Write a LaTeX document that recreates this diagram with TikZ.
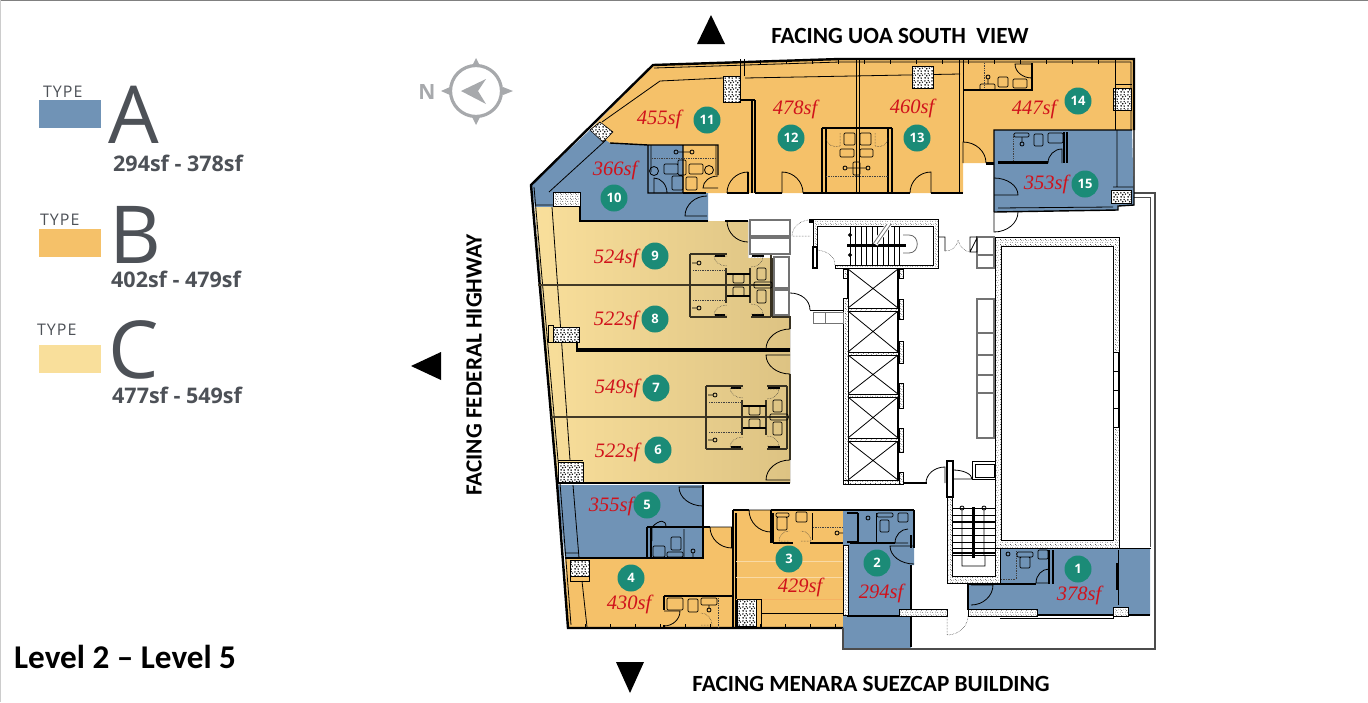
\documentclass[tikz,border=0pt]{standalone}
\usepackage{fontspec}
\setmainfont{Open Sans}
\newfontfamily\capfont{Carlito}
\newfontfamily\handfont{Liberation Serif}
\usetikzlibrary{patterns}
\definecolor{typea}{HTML}{7093B6}
\definecolor{typeb}{HTML}{F5C169}
\definecolor{typec}{HTML}{F9DF9B}
\definecolor{typecdark}{HTML}{DDC383}
\definecolor{tealdot}{HTML}{1B8B77}
\definecolor{areared}{HTML}{D0121B}
\definecolor{slate}{HTML}{4D5157}
\definecolor{compassgrey}{HTML}{A7A9AC}
% the two stone fills
\pgfdeclarepatternformonly{finespeck}{\pgfqpoint{0pt}{0pt}}{\pgfqpoint{5pt}{5pt}}{\pgfqpoint{5pt}{5pt}}{
	\pgfpathcircle{\pgfqpoint{.8pt}{1pt}}{.4pt}
	\pgfpathcircle{\pgfqpoint{3.2pt}{.6pt}}{.35pt}
	\pgfpathcircle{\pgfqpoint{2pt}{2.8pt}}{.4pt}
	\pgfpathcircle{\pgfqpoint{4.3pt}{3.4pt}}{.35pt}
	\pgfpathcircle{\pgfqpoint{.6pt}{4.2pt}}{.35pt}
	\pgfusepath{fill}}
\pgfdeclarepatternformonly{blotch}{\pgfqpoint{0pt}{0pt}}{\pgfqpoint{7pt}{7pt}}{\pgfqpoint{7pt}{7pt}}{
	\pgfpathcircle{\pgfqpoint{1.2pt}{1.2pt}}{1pt}
	\pgfpathcircle{\pgfqpoint{4.6pt}{1pt}}{.9pt}
	\pgfpathcircle{\pgfqpoint{3pt}{3.6pt}}{1pt}
	\pgfpathcircle{\pgfqpoint{6pt}{4.2pt}}{.8pt}
	\pgfpathcircle{\pgfqpoint{1pt}{5.6pt}}{.9pt}
	\pgfpathcircle{\pgfqpoint{4.6pt}{6pt}}{.8pt}
	\pgfusepath{fill}}
\tikzset{
	wall/.style={line width=1.4pt, black}, % room walls
	outerwall/.style={line width=2.4pt, black, line join=miter},
	thinwall/.style={line width=.8pt, black},
	partywall/.style={line width=1.3pt, black!70!typecdark},
	doorline/.style={line width=.8pt, black},
	dashdoor/.style={line width=.5pt, black!80, densely dotted},
	fixture/.style={line width=.7pt, black, rounded corners=1.2pt},
	showerline/.style={line width=.7pt, black!75, densely dotted},
	liftbox/.style={line width=1.2pt, black!55, fill=white},
	concrete/.style={draw=black, line width=.4pt, preaction={fill=white}, pattern=finespeck, pattern color=black},
	pillar/.style={draw=black, line width=.6pt, preaction={fill=white}, pattern=blotch, pattern color=black},
	unitdot/.style={circle, fill=tealdot, minimum size=27pt, inner sep=0pt, text=white, font=\bfseries\fontsize{13}{13}\selectfont},
	arealabel/.style={text=areared, font=\handfont\itshape\fontsize{20.5}{20.5}\selectfont},
	legendbox/.style={minimum width=62pt, minimum height=28pt, inner sep=0pt},
	typeword/.style={text=slate, font=\addfontfeature{LetterSpace=6}\fontsize{16}{16}\selectfont, anchor=base west, inner sep=0pt},
	bigletter/.style={text=slate, font=\fontsize{80}{80}\selectfont, anchor=base west, inner sep=0pt},
	rangeword/.style={text=slate, font=\bfseries\fontsize{21.5}{21.5}\selectfont, anchor=base west, inner sep=0pt},
	facing/.style={black, font=\capfont\bfseries\fontsize{23.2}{23.2}\selectfont, inner sep=0pt},
	bigtip/.style={fill=black},
	% one double bathroom, two showers back to back
	pics/twinbath/.style={code={
		\draw[wall, black!75!typecdark] (0,-31) -- (37,-31) (0,32) -- (37,32) (0,-31) -- (0,32) (0,0) -- (84,0);
		\draw[wall, black!75!typecdark] (36,-17) -- (36,18) (61,-31) -- (81,-31) (61,32) -- (81,32) (60,-17) -- (60,18) (81,-31) -- (81,32);
		\draw[line width=2pt] (25,-29) -- (35,-29) (25,30) -- (35,30) (62,-29) -- (74,-29) (62,30) -- (74,30);
		\draw[wall] (37,-11) -- (60,-11) (37,11) -- (60,11);
		\draw[fixture] (43,-11) rectangle (54,-2) (43,2) rectangle (54,11);
		\draw[fixture] (67,-17) rectangle (76,-5) (67,5) rectangle (76,18) (64,-3) rectangle (82,3);
		\draw[showerline] (3,-15) -- (36,-15) (3,15) -- (36,15);
		\draw[thinwall] (9,-22) circle (2) (9,23) circle (2) (2,-22) -- (7,-22) (2,23) -- (7,23);
		\doorswing[dashdoor]{37}{-29}{24}{-29}{37}{-19}
		\doorswing[dashdoor]{37}{30}{24}{30}{37}{20}
		\doorswing[dashdoor]{61}{-28}{73}{-28}{61}{-18}
		\doorswing[dashdoor]{61}{29}{73}{29}{61}{19}
	}},
}
% hinge, leaf end, swing end
\newcommand{\doorswing}[7][doorline]{\draw[#1] (#2,#3) -- (#4,#5) .. controls ({#4+.55*(#6-#2)},{#5+.55*(#7-#3)}) and ({#6+.55*(#4-#2)},{#7+.55*(#5-#3)}) .. (#6,#7);}

\begin{document}
\begin{tikzpicture}[x=1pt,y=-1pt]
	\useasboundingbox (0,0) rectangle (1368,702);
	\draw[black!50, line width=1pt] (0,.5) -- (1368,.5);
	\draw[black!20, line width=1pt] (.5,0) -- (.5,702);

	%% legend
	\foreach \t/\col/\by/\wx/\wy/\bx/\bby/\rng/\rx/\ry in {
		A/typea/100/43/97/108/143/294sf - 378sf/113/171,
		B/typeb/229/40/225/109/263/402sf - 479sf/111/287,
		C/typec/345/37/335/108/378/477sf - 549sf/112/403}{
		\node[legendbox, fill=\col, anchor=north west] (box\t) at (39,\by) {};
		\node[typeword] (word\t) at (\wx,\wy) {TYPE};
		\node[bigletter] (big\t) at (\bx,\bby) {\t};
		\node[rangeword] (range\t) at (\rx,\ry) {\rng};
	}
	\node[black, anchor=base west, inner sep=0pt, font=\capfont\bfseries\fontsize{33.2}{33.2}\selectfont] (level) at (14,668) {Level 2 – Level 5};

	%% compass
	\node[text=compassgrey, font=\bfseries\fontsize{21}{21}\selectfont, inner sep=0pt] (north) at (427,92) {N};
	\draw[compassgrey, line width=3.2pt] (476,91) circle (25.5);
	\fill[compassgrey] (441,91) -- (450,87) -- (450,95) -- cycle (513,91) -- (503,87) -- (503,95) -- cycle
		(476,58) -- (472,66) -- (480,66) -- cycle (476,125) -- (472,117) -- (480,117) -- cycle;
	\fill[compassgrey] (461,91) -- (486,79) -- (478,91) -- (486,104) -- cycle;

	%% facing arrows and captions
	\fill[bigtip] (697,44) -- (725,44) -- (711,15) -- cycle;
	\fill[bigtip] (616,662) -- (644,662) -- (630,693) -- cycle;
	\fill[bigtip] (411,366) -- (441,352) -- (441,380) -- cycle;
	\node[facing] (southview) at (900,36) {FACING UOA SOUTH\ \ VIEW};
	\node[facing] (suezcap) at (871,684) {FACING MENARA SUEZCAP BUILDING};
	\node[facing, rotate=90] (highway) at (474,365) {FACING FEDERAL HIGHWAY};

	%% type fills
	\fill[typeb] (653,65) -- (840,59) -- (1134,59) -- (1134,130) -- (994,130) -- (994,163) -- (963,163) -- (963,193) -- (683,193) -- (683,145) -- (650,145) -- (610,143) -- (590,130) -- cycle;
	\fill[typea] (590,130) -- (531,185) -- (535,207) -- (580,207) -- (580,221) -- (708,221) -- (708,193) -- (683,193) -- (683,145) -- (650,145) -- (610,143) -- cycle;
	\fill[left color=typec, right color=typecdark] (535,207) -- (580,207) -- (580,221) -- (748,221) -- (748,258) -- (773,258) -- (773,317) -- (790,317) -- (790,483) -- (557,483) -- cycle;
	\fill[typea] (557,485) -- (703,485) -- (703,558) -- (565,558) -- cycle;
	\fill[typeb] (565,558) -- (703,558) -- (703,527) -- (733,527) -- (733,510) -- (843,510) -- (843,628) -- (568,628) -- cycle;
	\fill[typea] (843,510) -- (914,510) -- (914,565) -- (911,565) -- (911,648) -- (843,648) -- cycle;
	\fill[typea] (1000,548) -- (1150,548) -- (1150,615) -- (968,615) -- (968,583) -- (1000,583) -- cycle;
	\fill[typea] (994,130) -- (1132,130) -- (1134,205) -- (1118,205) -- (1118,210) -- (994,212) -- cycle;

	%% envelope
	\draw[outerwall] (1134,130) -- (1134,59) -- (840,59) -- (653,65) -- (531,185) -- (557,483) -- (568,628) -- (843,628);
	\draw[thinwall] (654,68) -- (840,62) -- (1131,62) -- (1131,130) (534,187) -- (560,483) -- (571,625);
	\foreach \x in {760,786,...,1120}
		\draw[thinwall] (\x,60) -- (\x,64);
	\foreach \x in {585,610,...,840}
		\draw[thinwall] (\x,624) -- (\x,628);
	\draw[black!70, line width=2.5pt] (1134,193) -- (1155,193) -- (1155,649) -- (843,649) -- (843,628);
	\draw[black!70, line width=1pt] (1134,197) -- (1150,197) -- (1150,547);
	\draw[thinwall] (1118,548) -- (1151,548);
	\draw[wall] (911,565) -- (911,647);

	%% north side units 11 to 14
	\draw[thinwall] (602,122) -- (660,81) -- (723,78) (745,78) -- (960,74) (552,207) -- (570,460);
	\draw[thinwall] (740,59) -- (740,76) (744,59) -- (744,76);
	\draw[wall] (740,100) -- (755,100) (752,100) -- (752,193) (755,100) -- (755,193);
	\draw[wall] (755,193) -- (782,193) (803,193) -- (910,193) (931,193) -- (963,193) (683,193) -- (706,193) (727,193) -- (748,193) -- (748,172);
	\draw[thinwall] (959,60) -- (959,193) (963,60) -- (963,142) (856,60) -- (856,128) (859,60) -- (859,128);
	\draw[line width=3pt] (986,163) -- (994,163);
	\doorswing{748}{193}{748}{172}{727}{193}
	\doorswing{782}{193}{782}{172}{803}{193}
	\doorswing{931}{193}{931}{172}{910}{193}
	\doorswing{963}{163}{963}{142}{986}{163}
	\doorswing{707}{216}{685}{216}{707}{196}
	% pillars along the facade
	\filldraw[pillar] (723,76) rectangle (740,102);
	\filldraw[pillar] (590,130) -- (600,122) -- (613,132) -- (603,142) -- cycle;
	\filldraw[concrete] (553,192) rectangle (580,206);
	\filldraw[pillar] (912,66) rectangle (933,88);
	\filldraw[pillar] (1113,88) rectangle (1131,110);
	\filldraw[pillar] (1111,190) rectangle (1131,203);
	\draw[thinwall] (1115,60) -- (1115,130) (1115,84) -- (1132,84);

	% bath of 10 and 11
	\draw[wall] (610,143) -- (648,145) -- (648,193) -- (683,193) (648,145) -- (718,145) -- (718,175) (683,145) -- (683,193);
	\draw[thinwall] (651,145) -- (651,172) (716,145) -- (716,175) (549,192) -- (606,140) (535,205) -- (553,205);
	\draw[showerline] (652,158) -- (716,158);
	\draw[fixture] (664,164) rectangle (678,174) (689,164) rectangle (703,174) (678,160) rectangle (686,175) (672,176) rectangle (683,190) (686,177) rectangle (697,190);
	\draw[thinwall] (676,152) circle (2) (692,152) circle (2) (678,152) -- (690,152) (654,171) circle (4.5) (709,170) circle (4.5);
	\doorswing{654}{193}{654}{178}{667}{193}
	\doorswing{718}{188}{703}{188}{718}{176}

	% bath of 12 and 13
	\draw[wall] (822,128) -- (822,193) (826,128) -- (826,193) (888,128) -- (888,193) (892,128) -- (892,193) (822,128) -- (892,128);
	\draw[thinwall] (856,128) -- (856,193) (859,128) -- (859,193);
	\draw[fixture] (844,133) rectangle (855,145) (860,133) rectangle (871,145) (840,149) rectangle (854,157) (860,149) rectangle (873,157) (853,162) rectangle (860,175);
	\draw[thinwall] (845,168) circle (2) (868,168) circle (2) (847,168) -- (866,168);
	\draw[showerline] (826,176) -- (888,176);
	\doorswing[dashdoor]{840}{133}{840}{146}{826}{137}
	\doorswing[dashdoor]{875}{133}{875}{146}{888}{137}

	% bath of 14
	\draw[wall] (963,90) -- (1032,90) -- (1032,63);
	\doorswing{1032}{64}{1015}{64}{1032}{78}
	\draw[fixture] (998,77) rectangle (1008,87) (1013,79) rectangle (1027,88) (980,84) rectangle (995,90);
	\draw[thinwall] (988,77) circle (2) (988,79) -- (988,84);
	\draw[showerline] (984,63) -- (984,88);

	%% unit 15
	\draw[wall] (994,212) -- (994,130) -- (1132,130) (994,212) -- (1118,210) -- (1118,206) -- (1134,205) -- (1134,130);
	\draw[thinwall] (998,208) -- (1113,207) (1117,130) -- (1117,187) (1113,187) -- (1133,187);
	\draw[line width=3pt] (998,162) -- (1048,162);
	\draw[wall] (1064,132) -- (1064,163) (1067,132) -- (1067,163);
	\doorswing{1062}{163}{1062}{149}{1048}{163}
	\doorswing{994}{195}{1018}{195}{994}{178}
	\doorswing{994}{212}{994}{232}{1018}{212}
	\draw[fixture] (1034,134) rectangle (1043,146) (1048,133) rectangle (1063,143) (1014,133) rectangle (1029,137);
	\draw[thinwall] (1022,144) circle (2) (1022,137) -- (1022,142);
	\draw[showerline] (1013,134) -- (1013,160);

	%% west side units 6 to 9
	\draw[partywall] (538,285) -- (690,285) (551,417) -- (706,417);
	\draw[wall] (580,207) -- (580,221) -- (708,221) (725,221) -- (748,221) (577,342) -- (577,351) -- (790,351) (577,349) -- (790,349) (557,483) -- (790,483);
	\draw[black!75!typecdark, line width=1.5pt] (773,258) -- (773,317) -- (790,317) -- (790,329) (790,374) -- (790,460);
	\doorswing{790}{349}{766}{349}{790}{329}
	\doorswing{790}{355}{766}{355}{790}{374}
	\doorswing{790}{480}{766}{480}{790}{460}
	\doorswing{748}{221}{727}{221}{748}{242}
	\filldraw[pillar] (553,327) rectangle (579,342);
	\draw[thinwall] (548,325) rectangle (553,342);
	\filldraw[pillar] (558,462) rectangle (583,482);
	\draw[thinwall] (558,460) -- (583,460);
	\pic at (706,417) {twinbath};
	\pic at (690,285) {twinbath};

	%% lift lobby boxes by unit 9
	\draw[liftbox] (750,220) rectangle (790,236) (750,238) rectangle (790,254);
	\draw[liftbox] (774,257) rectangle (789,288) (774,290) rectangle (789,315);
	\doorswing[dashdoor]{810}{236}{792}{236}{810}{220}
	\fill[black] (809,219) rectangle (813,223);

	%% stair and lift core
	\filldraw[concrete] (813,219) -- (938,219) -- (938,268) -- (835,268) -- (835,265) -- (933,265) -- (933,226) -- (817,226) -- (817,247) -- (813,247) -- cycle;
	\draw[wall] (813,247) rectangle (817,268);
	\draw[dashdoor] (818,250) .. controls (830,252) and (835,258) .. (835,265);
	\foreach \x in {850,855.5,...,903}
		\draw[thinwall] (\x,227) -- (\x,265);
	\draw[line width=3pt] (847,245) -- (906,245);
	\draw[black!60, line width=.8pt] (903,235) -- (909,235) .. controls (920,235) and (920,253) .. (909,253) -- (903,253);
	\draw[white, line width=6pt] (875,244) -- (889,224);
	\draw[black!55, line width=.8pt] (873,244) -- (887,224) (877,244) -- (891,224);
	\draw[thinwall, fill=black] (850,235) circle (1.5) (850,255) circle (1.5);
	% lifts
	\filldraw[concrete] (843,298) rectangle (848,484) (843,480) rectangle (903,484) (843,269) rectangle (848,278);
	\foreach \ytop/\ybot in {269/308,311/352,355/394,397/438,441/480}{
		\draw[thinwall] (848,\ytop) -- (898,\ybot) (898,\ytop) -- (848,\ybot);
		\draw[thinwall] (848,\ytop) -- (848,\ybot);
		\draw[line width=1.6pt] (898,\ytop) -- (898,\ybot);
	}
	\draw[line width=1.6pt] (848,269) -- (848,298);
	\foreach \ydiv in {308,352,394,438}
		\filldraw[concrete] (848,\ydiv) rectangle (898,\ydiv+3);
	\foreach \ytop/\ybot in {269/278,299/319,341/363,383/408,428/452,472/484}
		\filldraw[concrete] (899,\ytop) rectangle (903,\ybot);
	% closet and door west of the lifts
	\draw[thinwall] (810,310) -- (843,310);
	\draw[liftbox, line width=.9pt] (813,312) rectangle (825,323) (825,312) rectangle (843,323);
	\draw[doorline] (790,293) .. controls (801,293) and (810,300) .. (810,310);

	%% risers east of the lifts
	\foreach \ytop/\ybot in {237/255,255/268,299/333,333/355,355/375,375/393,393/438}
		\draw[liftbox] (977,\ytop) rectangle (994,\ybot);
	\draw[thinwall] (938,237) -- (945,237) -- (945,251) (970,237) rectangle (977,252) (970,252) -- (977,238);
	\draw[dashdoor] (945,251) .. controls (952,251) and (957,247) .. (958,240) .. controls (960,247) and (964,251) .. (970,252);

	%% big shaft
	\filldraw[concrete, even odd rule] (995,237) rectangle (1119,548) (1001,246) rectangle (1113,540);
	\draw[thinwall, fill=white] (1113,352) rectangle (1118,427);
	\foreach \ytick in {371,390,408}
		\draw[thinwall] (1113,\ytick) -- (1118,\ytick);

	%% lower stair
	\filldraw[concrete] (947,497) -- (952,497) -- (952,576) -- (995,576) -- (995,548) -- (1000,548) -- (1000,583) -- (947,583) -- cycle;
	\draw[wall] (947,461) rectangle (953,497);
	\draw[thinwall] (972,461) rectangle (995,479) (975,464) rectangle (994,477);
	\doorswing{953}{479}{972}{479}{953}{470}
	\foreach \ytread in {508,515,522,528,535,542,548,555}
		\draw[thinwall] (952,\ytread) -- (995,\ytread);
	\draw[line width=2pt] (952,522) -- (995,522) (952,553) -- (995,553);
	\draw[line width=3pt] (973,507) -- (973,558);
	\draw[thinwall] (962,555) -- (962,566) -- (985,566) -- (985,555) (962,508) circle (2) (984,508) circle (2) (962,510) -- (962,555) (984,510) -- (984,555);
	\draw[wall] (903,483) -- (927,483);
	\doorswing{945}{483}{945}{467}{926}{483}

	%% unit 1 and the south edge
	\filldraw[concrete] (899,609) rectangle (947,616);
	\filldraw[concrete] (968,609) rectangle (1037,616);
	\filldraw[concrete] (1113,607) rectangle (1128,616);
	\draw[wall] (968,583) -- (968,610) (968,584) -- (1036,584) (1049,550) -- (1049,584) (1053,550) -- (1053,584) (1037,615) -- (1113,615) (1128,615) -- (1150,615);
	\draw[thinwall] (1000,618) -- (1113,618) -- (1113,615) (1118,550) -- (1118,605);
	\draw[line width=2pt] (1117,563) -- (1117,590);
	\draw[showerline] (1016,551) -- (1016,579) -- (1000,579);
	\draw[fixture] (1020,557) rectangle (1030,568) (1017,552) rectangle (1033,557) (1038,550) rectangle (1048,559);
	\draw[thinwall] (1008,554) circle (2);
	\doorswing{971}{585}{993}{585}{971}{605}
	\doorswing{1049}{583}{1036}{583}{1049}{569}
	\doorswing[dashdoor]{947}{616}{947}{635}{968}{616}

	%% unit 2
	\filldraw[concrete] (843,545) rectangle (848,615);
	\draw[wall] (843,510) -- (914,510) (850,543) -- (895,543) (911,535) -- (911,548) (914,510) -- (914,548) (847,616) -- (899,616) (858,513) -- (858,542) (847,513) -- (858,513) (847,542) -- (858,542);
	\draw[thinwall] (876,513) -- (876,542);
	\draw[fixture] (880,520) rectangle (889,532) (877,513) rectangle (893,517) (898,513) rectangle (908,522);
	\draw[thinwall] (868,518) circle (2);
	\doorswing[doorline]{908}{543}{895}{543}{908}{529}
	\doorswing{914}{546}{890}{546}{914}{564}

	%% unit 3
	\draw[wall] (733,510) -- (749,510) (771,510) -- (843,510) (733,510) -- (733,628) (736,513) -- (736,628) (771,510) -- (771,543) (773,513) -- (773,543) (773,543) -- (793,543) (810,543) -- (843,543);
	\draw[typeb!60!white, line width=.5pt] (736,561) -- (843,561) (736,577) -- (843,577);
	\draw[typeb!92!red, line width=.5pt] (736,599) -- (843,599);
	\draw[thinwall] (812,513) -- (812,540) (761,613) -- (843,613);
	\draw[showerline] (813,527) -- (842,527);
	\draw[fixture] (777,517) rectangle (787,530) (776,513) rectangle (789,517) (796,512) rectangle (807,522);
	\draw[thinwall] (837,533) circle (2) (839,533) -- (843,533);
	\doorswing{771}{510}{749}{510}{771}{532}
	\doorswing[dashdoor]{789}{541}{779}{541}{789}{531}
	\doorswing[dashdoor]{801}{541}{811}{541}{801}{531}
	\filldraw[pillar] (737,599) rectangle (756,626);
	\draw[thinwall] (756,599) rectangle (761,627);

	%% unit 4
	\draw[wall] (565,558) -- (703,558) -- (703,485) (703,527) -- (710,527) (732,527) -- (733,527) (664,596) -- (734,596) (664,596) -- (664,610) (664,625) -- (664,628);
	\draw[wall] (732,527) -- (732,548);
	\doorswing{732}{527}{710}{527}{732}{548}
	\draw[fixture] (667,598) rectangle (683,610) (688,599) rectangle (698,612) (701,598) rectangle (717,605);
	\draw[thinwall] (709,610) circle (2) (709,605) -- (709,608) (587,627) -- (582,581);
	\draw[showerline] (718,598) -- (718,627);
	\doorswing{664}{611}{680}{611}{664}{626}
	\doorswing[dashdoor]{701}{625}{712}{625}{701}{613}
	\filldraw[pillar] (570,560) rectangle (589,576);
	\draw[thinwall] (570,576) rectangle (589,581);

	%% unit 5
	\draw[wall] (647,527) -- (703,527) (647,527) -- (647,558) (651,527) -- (651,558);
	\doorswing{652}{541}{652}{527}{666}{527}
	\draw[fixture] (653,546) rectangle (665,557) (671,537) rectangle (681,550) (667,552) rectangle (683,557);
	\draw[thinwall] (693,551) circle (2) (693,553) -- (693,558) (684,529) -- (684,557) (573,485) -- (579,558) (565,553) -- (579,553);
	\doorswing{703}{487}{679}{487}{703}{506}

	%% area labels
	\foreach \n/\x/\y/\a in {1/1079/595/378,2/881/593/294,3/800/587/429,4/629/604/430,5/611/506/355,
		6/617/452/522,7/617/388/549,8/616/320/522,9/616/258/524,10/615/170/366,
		11/659/119/455,12/795/109/478,13/912/108/460,14/1034/109/447,15/1046/184/353}
		\node[arealabel] (area\n) at (\x,\y) {\a sf};
	%% unit numbers
	\foreach \n/\x/\y in {1/1078/569,2/877/563,3/789/559,4/631/578,5/647/505,6/658/450,7/656/388,8/655/319,
		9/655/256,10/614/198,11/707/120,12/791/138,13/917/138,14/1078/101,15/1085/184}
		\node[unitdot] (unit\n) at (\x,\y) {\n};
\end{tikzpicture}
\end{document}
